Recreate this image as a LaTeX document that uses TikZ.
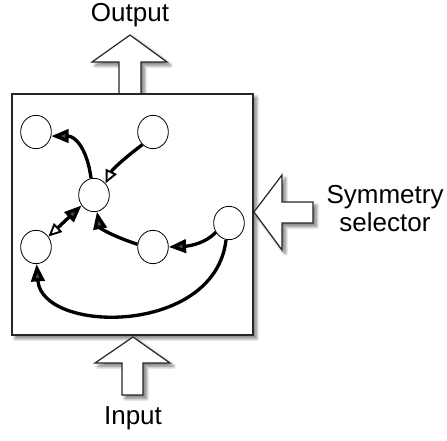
\documentclass[tikz,border=0pt]{standalone}
\usepackage{fontspec}
\setmainfont{Liberation Sans}
\usetikzlibrary{arrows.meta,shapes.geometric,shadows.blur}

\begin{document}
\begin{tikzpicture}[x=0.75pt,y=-0.75pt,
	unit/.style={ellipse,draw,fill=white,line width=0.6pt,minimum width=23pt,minimum height=25pt,inner sep=0pt},
	link/.style={line width=2.5pt,-{Triangle[length=13pt,width=10pt]}},
	hollow/.style={line width=2.5pt,-{Triangle[open,length=10pt,width=9pt,line width=1.4pt]}},
	block/.style={draw=black!85,fill=white,line width=0.9pt,blur shadow={shadow xshift=2.5pt,shadow yshift=-2.5pt,shadow blur steps=8,shadow blur radius=2.5pt,shadow opacity=55}},
	label/.style={font=\fontsize{19.5}{21}\selectfont,align=center}]
					\useasboundingbox (0,0) rectangle (447,440);
					\coordinate (ctop) at (130,35);
					\coordinate (cbot) at (133,337);
					\coordinate (cside) at (254,212);
					\coordinate (pa) at (36,132);
					\coordinate (pb) at (153,132);
					\coordinate (pc) at (94,195);
					\coordinate (pd) at (36,247);
					\coordinate (pe) at (153,247);
					\coordinate (pf) at (229,223);
					
					\draw[block] (ctop) -- (167,62) -- (141,62) -- (141,94) -- (119,94) -- (119,62) -- (92,62) -- cycle;
					\draw[block] (12,94) rectangle (253,335);
					\draw[block] (cbot) -- (170,363) -- (143,363) -- (143,395) -- (122,395) -- (122,363) -- (95,363) -- cycle;
					\draw[block] (cside) -- (282,175) -- (282,202) -- (313,202) -- (313,223) -- (282,223) -- (282,250) -- cycle;
					
					\node (output) at (130,15) [label] {Output};
					\node (input) at (133,418) [label] {Input};
					\node (selector) at (385,209) [label] {Symmetry\\selector};
					
					\node (a) at (pa) [unit] {};
					\node (b) at (pb) [unit] {};
					\node (c) at (pc) [unit] {};
					\node (d) at (pd) [unit] {};
					\node (e) at (pe) [unit] {};
					\node (f) at (pf) [unit] {};
					
					\draw[link] (c.100) .. controls (87,148) and (75,136) .. (a.-15);
					\draw[hollow] (b.-130) .. controls (122,160) and (112,170) .. (c.45);
					\draw[line width=2.5pt,{Triangle[open,length=10pt,width=9pt,line width=1.4pt]}-{Triangle[length=13pt,width=10pt]}] (d.40) -- (c.-140);
					\draw[link] (e.170) .. controls (112,236) and (100,228) .. (c.-80);
					\draw[link] (f.-145) .. controls (206,243) and (190,246) .. (e.east);
					\draw[link] (f.-100) .. controls (215,336) and (42,334) .. (d.-88);
				\end{tikzpicture}
\end{document}
